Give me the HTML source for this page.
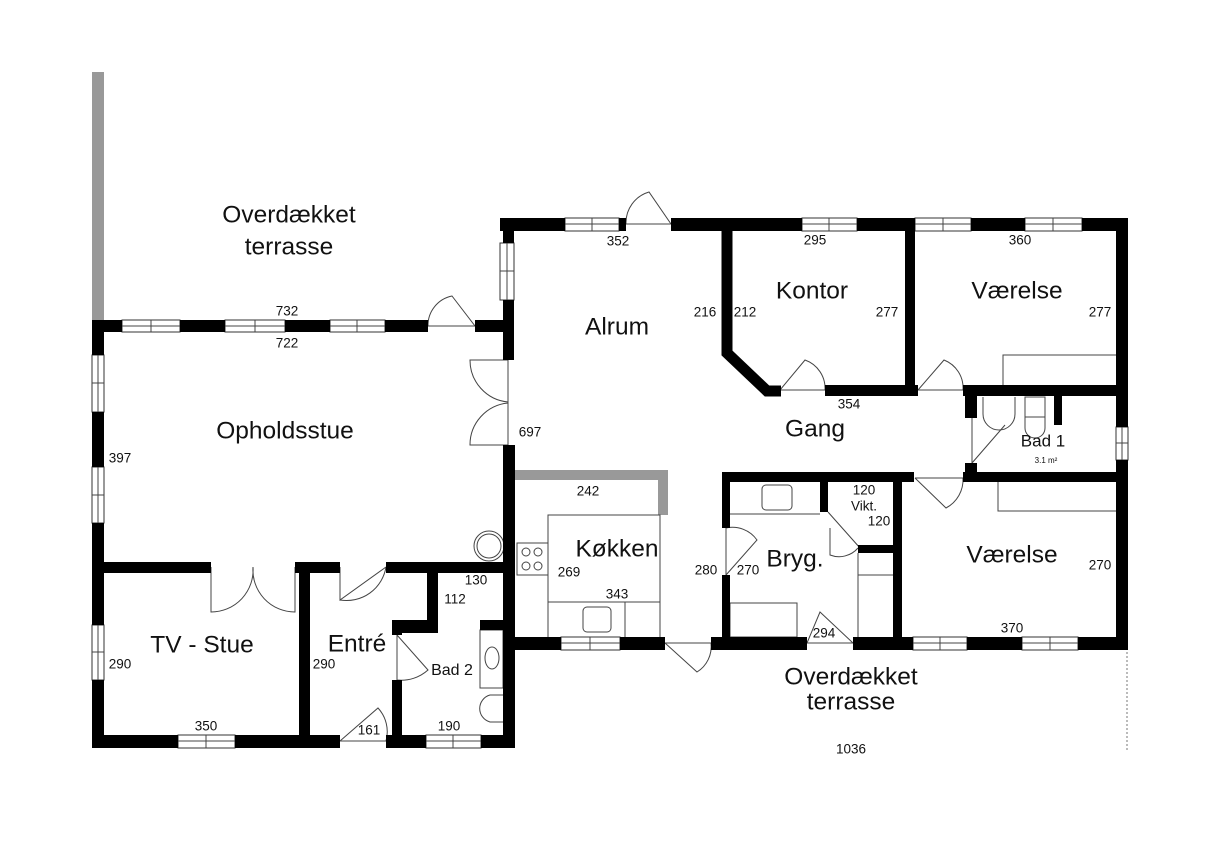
<!DOCTYPE html>
<html><head><meta charset="utf-8"><style>
html,body{margin:0;padding:0;background:#fff}
svg{display:block}
text{font-family:"Liberation Sans",Arial,sans-serif;fill:#111;dominant-baseline:middle;text-anchor:middle}
.d{font-size:13.5px}.r{font-size:24.5px}
.w{fill:#000}.win{fill:#fff;stroke:#333;stroke-width:1}
.l{fill:none;stroke:#444;stroke-width:1}
</style></head><body>
<svg width="1220" height="856" viewBox="0 0 1220 856" xmlns="http://www.w3.org/2000/svg">
<rect width="1220" height="856" fill="#fff"/>
<rect x="92" y="72" width="12" height="248" fill="#999"/>
<rect x="515" y="470" width="153" height="10" fill="#999"/>
<rect x="658" y="470" width="10" height="45" fill="#999"/>
<g class="win">
<rect x="122" y="320" width="58" height="12"/><rect x="225" y="320" width="60" height="12"/><rect x="330" y="320" width="55" height="12"/>
<rect x="92" y="355" width="12" height="57"/><rect x="92" y="467" width="12" height="56"/><rect x="92" y="625" width="12" height="55"/>
<rect x="500" y="243" width="14" height="57"/>
<rect x="565" y="218" width="54" height="13"/><rect x="802" y="218" width="55" height="13"/><rect x="915" y="218" width="56" height="13"/><rect x="1025" y="218" width="57" height="13"/>
<rect x="1116" y="427" width="12" height="33"/>
<rect x="178" y="735" width="57" height="13"/><rect x="426" y="735" width="55" height="13"/>
<rect x="561" y="637" width="59" height="13"/><rect x="913" y="637" width="54" height="13"/><rect x="1022" y="637" width="56" height="13"/>
</g>
<g class="l">
<path d="M122 326H180M151 320V332M225 326H285M255 320V332M330 326H385M357 320V332"/>
<path d="M98 355V412M92 383H104M98 467V523M92 495H104M98 625V680M92 652H104"/>
<path d="M507 243V300M500 271H514"/>
<path d="M565 224H619M592 218V231M802 224H857M829 218V231M915 224H971M943 218V231M1025 224H1082M1053 218V231"/>
<path d="M1122 427V460M1116 443H1128"/>
<path d="M178 741H235M206 735V748M426 741H481M453 735V748M561 643H620M590 637V650M913 643H967M940 637V650M1022 643H1078M1050 637V650"/>
<path d="M428 326H475L452 296A30 30 0 0 0 428 326"/>
<path d="M626 224H671L649 192A32 32 0 0 0 626 224"/>
<path d="M508 360V445M508 360H470A42 42 0 0 0 508 402M508 445H470A42 42 0 0 1 508 403"/>
<path d="M211 567V612A42 42 0 0 0 253 567M295 567V612A42 42 0 0 1 253 567"/>
<path d="M340 567V600L386 567M340 600A40 40 0 0 0 386 567"/>
<path d="M780 390H825M780 390L805 360A30 30 0 0 1 825 390"/>
<path d="M918 390H963M918 390L944 360A30 30 0 0 1 963 390"/>
<path d="M915 478H963M915 478L946 508A32 32 0 0 0 963 478"/>
<path d="M972 418V463M972 463L1005 425"/>
<path d="M397 635V680M397 635L428 670A40 40 0 0 1 397 680"/>
<path d="M726 528V575M726 575L757 540A30 30 0 0 0 726 528"/>
<path d="M828 512L860 548M830 528V555A25 25 0 0 0 858 548"/>
<path d="M807 643H853M853 643L820 612L807 643"/>
<path d="M340 741H386M340 741L378 708A35 35 0 0 1 386 741"/>
<path d="M665 643H711M665 643L697 672A30 30 0 0 0 711 643"/>
<path d="M1003 385V355H1116"/>
<path d="M998 480V511H1117"/>
<rect x="548" y="515" width="112" height="87"/>
<rect x="517" y="543" width="31" height="32"/>
<circle cx="526" cy="552" r="4"/><circle cx="538" cy="552" r="4"/><circle cx="526" cy="566" r="4"/><circle cx="538" cy="566" r="4"/>
<path d="M548 602V637M625 602V637M660 602V637M548 602H660"/>
<rect x="583" y="607" width="28" height="25" rx="4"/>
<circle cx="489" cy="546" r="15"/><circle cx="489" cy="546" r="12"/>
<rect x="480" y="630" width="23" height="58"/><ellipse cx="492" cy="658" rx="7" ry="11"/>
<path d="M503 695H490A14 14 0 0 0 490 722H503"/>
<path d="M730 514H820"/><rect x="762" y="485" width="30" height="25" rx="4"/>
<rect x="730" y="603" width="67" height="34"/>
<path d="M858 553V637M858 575H893"/>
<path d="M983 397V414A16 16 0 0 0 1015 414V397"/>
<rect x="1025" y="397" width="20" height="20"/><path d="M1025 417V428A10 10 0 0 0 1045 428V417"/>
</g>
<g class="w">
<rect x="92" y="320" width="30" height="12"/><rect x="180" y="320" width="45" height="12"/><rect x="285" y="320" width="45" height="12"/><rect x="385" y="320" width="43" height="12"/><rect x="475" y="320" width="39" height="12"/>
<rect x="92" y="320" width="12" height="35"/><rect x="92" y="412" width="12" height="55"/><rect x="92" y="523" width="12" height="102"/><rect x="92" y="680" width="12" height="68"/>
<rect x="503" y="218" width="11" height="25"/><rect x="503" y="300" width="11" height="60"/><rect x="503" y="445" width="12" height="303"/>
<rect x="92" y="562" width="119" height="11"/><rect x="295" y="562" width="45" height="11"/><rect x="386" y="562" width="117" height="11"/>
<rect x="299" y="562" width="11" height="186"/>
<rect x="427" y="562" width="11" height="71"/><rect x="392" y="620" width="46" height="13"/><rect x="392" y="620" width="10" height="15"/><rect x="392" y="680" width="10" height="68"/>
<rect x="480" y="620" width="23" height="10"/>
<rect x="92" y="735" width="86" height="13"/><rect x="235" y="735" width="105" height="13"/><rect x="386" y="735" width="40" height="13"/><rect x="481" y="735" width="34" height="13"/>
<rect x="500" y="218" width="65" height="13"/><rect x="619" y="218" width="7" height="13"/><rect x="671" y="218" width="131" height="13"/><rect x="857" y="218" width="58" height="13"/><rect x="971" y="218" width="54" height="13"/><rect x="1082" y="218" width="46" height="13"/>
<rect x="1116" y="218" width="12" height="209"/><rect x="1116" y="460" width="12" height="190"/>
<rect x="905" y="231" width="10" height="165"/>
<rect x="825" y="385" width="93" height="11"/><rect x="963" y="385" width="165" height="11"/>
<rect x="965" y="396" width="12" height="22"/><rect x="965" y="463" width="12" height="9"/><rect x="1054" y="396" width="8" height="29"/>
<rect x="722" y="472" width="192" height="10"/><rect x="963" y="472" width="165" height="10"/>
<rect x="722" y="472" width="8" height="56"/><rect x="722" y="575" width="8" height="75"/>
<rect x="820" y="480" width="8" height="32"/><rect x="858" y="545" width="40" height="8"/><rect x="893" y="472" width="9" height="178"/>
<rect x="515" y="637" width="46" height="13"/><rect x="620" y="637" width="45" height="13"/><rect x="711" y="637" width="96" height="13"/><rect x="853" y="637" width="60" height="13"/><rect x="967" y="637" width="55" height="13"/><rect x="1078" y="637" width="50" height="13"/>
</g>
<path d="M727 231V353L767 391H781" fill="none" stroke="#000" stroke-width="11"/>
<path d="M1127 652V750" stroke="#777" stroke-width="1" stroke-dasharray="2,2"/>
<text class="r" x="289" y="216">Overdækket</text><text class="r" x="289" y="248">terrasse</text>
<text class="d" x="287" y="312">732</text><text class="d" x="287" y="344">722</text>
<text class="r" x="285" y="432">Opholdsstue</text><text class="d" x="120" y="459">397</text>
<text class="r" x="617" y="328">Alrum</text><text class="d" x="618" y="242">352</text>
<text class="d" x="705" y="313">216</text><text class="d" x="745" y="313">212</text>
<text class="r" x="812" y="292">Kontor</text><text class="d" x="815" y="241">295</text><text class="d" x="887" y="313">277</text>
<text class="r" x="1017" y="292">Værelse</text><text class="d" x="1020" y="241">360</text><text class="d" x="1100" y="313">277</text>
<text class="d" x="530" y="433">697</text><text class="r" x="815" y="430">Gang</text><text class="d" x="849" y="405">354</text>
<text x="1043" y="442" style="font-size:17px">Bad 1</text><text x="1046" y="461" style="font-size:8px">3.1 m²</text>
<text class="d" x="588" y="492">242</text><text class="r" x="617" y="550">Køkken</text><text class="d" x="569" y="573">269</text><text class="d" x="617" y="595">343</text>
<text class="d" x="476" y="581">130</text><text class="d" x="455" y="600">112</text>
<text class="d" x="864" y="491">120</text><text class="d" x="864" y="507">Vikt.</text><text class="d" x="879" y="522">120</text>
<text class="r" x="795" y="560">Bryg.</text><text class="d" x="706" y="571">280</text><text class="d" x="748" y="571">270</text>
<text class="r" x="1012" y="556">Værelse</text><text class="d" x="1100" y="566">270</text><text class="d" x="1012" y="629">370</text><text class="d" x="824" y="634">294</text>
<text class="r" x="202" y="646">TV - Stue</text><text class="d" x="120" y="665">290</text>
<text class="r" x="357" y="645">Entré</text><text class="d" x="324" y="665">290</text>
<text x="452" y="671" style="font-size:16px">Bad 2</text>
<text class="d" x="206" y="727">350</text><text class="d" x="369" y="731">161</text><text class="d" x="449" y="727">190</text>
<text class="r" x="851" y="678">Overdækket</text><text class="r" x="851" y="703">terrasse</text>
<text class="d" x="851" y="750">1036</text>
</svg>
</body></html>
